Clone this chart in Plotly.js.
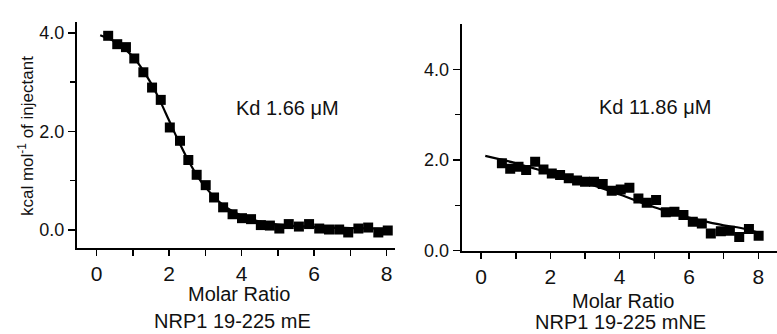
<!DOCTYPE html>
<html>
<head>
<meta charset="utf-8">
<script src="https://cdn.plot.ly/plotly-3.0.1.min.js"></script>
<style>html,body{margin:0;padding:0;background:#fff;}#chart{width:777px;height:334px;}</style>
</head>
<body>
<div id="chart"></div>
<script>
// Left panel: NRP1 19-225 mE
const mE_ratio = [0.32,0.57,0.81,1.04,1.29,1.53,1.77,2.02,2.30,2.53,2.76,3.01,3.24,3.49,3.75,4.01,4.26,4.53,4.78,5.04,5.30,5.58,5.86,6.14,6.41,6.69,6.94,7.22,7.49,7.77,8.03];
const mE_heat  = [3.94,3.77,3.71,3.48,3.20,2.89,2.64,2.08,1.81,1.42,1.12,0.91,0.66,0.46,0.32,0.24,0.22,0.10,0.09,0.03,0.12,0.07,0.12,0.03,0.01,0.01,-0.05,0.03,0.05,-0.05,-0.01];
const mE_fitRatio = [0.1,0.5,1.0,1.5,1.75,2.0,2.25,2.5,2.75,3.0,3.5,4.0,4.5,5.0,6.0,7.0,8.0];
const mE_fitHeat  = [3.95,3.82,3.52,2.98,2.62,2.22,1.82,1.45,1.13,0.87,0.50,0.29,0.17,0.11,0.06,0.04,0.03];

// Right panel: NRP1 19-225 mNE
const mNE_ratio = [0.60,0.84,1.08,1.30,1.56,1.80,2.04,2.28,2.53,2.77,3.00,3.26,3.51,3.77,4.03,4.28,4.54,4.78,5.05,5.33,5.58,5.84,6.11,6.37,6.63,6.92,7.18,7.45,7.73,8.01];
const mNE_heat  = [1.93,1.81,1.85,1.78,1.96,1.79,1.70,1.67,1.60,1.55,1.52,1.52,1.47,1.32,1.35,1.39,1.15,1.06,1.12,0.85,0.86,0.79,0.64,0.60,0.38,0.43,0.44,0.30,0.48,0.33];
const mNE_fitRatio = [0.12,1.0,1.5,2.0,3.0,4.0,5.0,5.5,6.0,6.5,7.0,7.5,8.0];
const mNE_fitHeat  = [2.09,1.93,1.82,1.71,1.50,1.24,0.96,0.84,0.73,0.64,0.56,0.50,0.40];

const xTicks = [0,2,4,6,8];
const yTicks = [0,2,4];
const yTickText = ["0.0","2.0","4.0"];
const labels = {
  kdLeft: "Kd 1.66 μM", kdRight: "Kd 11.86 μM",
  xTitle: "Molar Ratio",
  nameLeft: "NRP1 19-225 mE", nameRight: "NRP1 19-225 mNE",
  yTitle: "kcal mol<sup>-1</sup> of injectant"
};

const FONT = "Liberation Sans, Arial, sans-serif";
const W = 777, H = 334;
const px = x => x / W, py = y => 1 - y / H;

const marker = {symbol: "square", size: 10, color: "#000"};
const traces = [
  {x: mE_ratio, y: mE_heat, mode: "markers", marker: marker, xaxis: "x", yaxis: "y"},
  {x: mE_fitRatio, y: mE_fitHeat, mode: "lines", line: {color: "#000", width: 2.2, shape: "spline"}, xaxis: "x", yaxis: "y"},
  {x: mNE_ratio, y: mNE_heat, mode: "markers", marker: marker, xaxis: "x2", yaxis: "y2"},
  {x: mNE_fitRatio, y: mNE_fitHeat, mode: "lines", line: {color: "#000", width: 2.2, shape: "spline"}, xaxis: "x2", yaxis: "y2"}
];

function xax(domain, range, anchor) {
  return {domain: domain, range: range, anchor: anchor, showgrid: false, zeroline: false,
    showline: true, linecolor: "#000", linewidth: 2, ticks: "outside", ticklen: 6, tickwidth: 1.5, tickcolor: "#000",
    tickmode: "array", tickvals: xTicks, tickfont: {family: FONT, size: 21, color: "#111"},
    minor: {dtick: 1, tick0: 0, ticks: "outside", ticklen: 6, tickwidth: 1.5, tickcolor: "#000", showgrid: false},
    fixedrange: true};
}
function yax(domain, range, anchor) {
  return {domain: domain, range: range, anchor: anchor, showgrid: false, zeroline: false,
    showline: true, linecolor: "#000", linewidth: 2, ticks: "outside", ticklen: 7, tickwidth: 1.5, tickcolor: "#000",
    tickmode: "array", tickvals: yTicks, ticktext: yTickText, tickfont: {family: FONT, size: 18, color: "#111"},
    minor: {tickvals: [1,3], ticks: "outside", ticklen: 5, tickwidth: 1.5, tickcolor: "#000", showgrid: false},
    fixedrange: true};
}

const ann = (text, x, y, size, extra) => Object.assign({text: text, xref: "paper", yref: "paper",
  x: px(x), y: py(y), xanchor: "center", yanchor: "middle", showarrow: false,
  font: {family: FONT, size: size, color: "#111"}}, extra || {});

const layout = {
  width: W, height: H, margin: {l: 0, r: 0, t: 0, b: 0},
  paper_bgcolor: "#fff", plot_bgcolor: "#fff", showlegend: false,
  xaxis: xax([px(77), px(395)], [-0.54, 8.23], "y"),
  yaxis: yax([py(248), py(22)], [-0.365, 4.22], "x"),
  xaxis2: xax([px(461.7), 1], [-0.56, 8.54], "y2"),
  yaxis2: yax([py(250.7), py(24)], [0, 5], "x2"),
  annotations: [
    ann(labels.kdLeft, 287, 108, 20),
    ann(labels.kdRight, 655, 107, 20),
    ann(labels.xTitle, 239, 294, 20),
    ann(labels.xTitle, 623, 301, 20),
    ann(labels.nameLeft, 233, 321, 20),
    ann(labels.nameRight, 620, 322, 20),
    ann(labels.yTitle, 26, 136, 17, {textangle: -90})
  ]
};

Plotly.newPlot("chart", traces, layout, {staticPlot: true, displayModeBar: false});
</script>
</body>
</html>
